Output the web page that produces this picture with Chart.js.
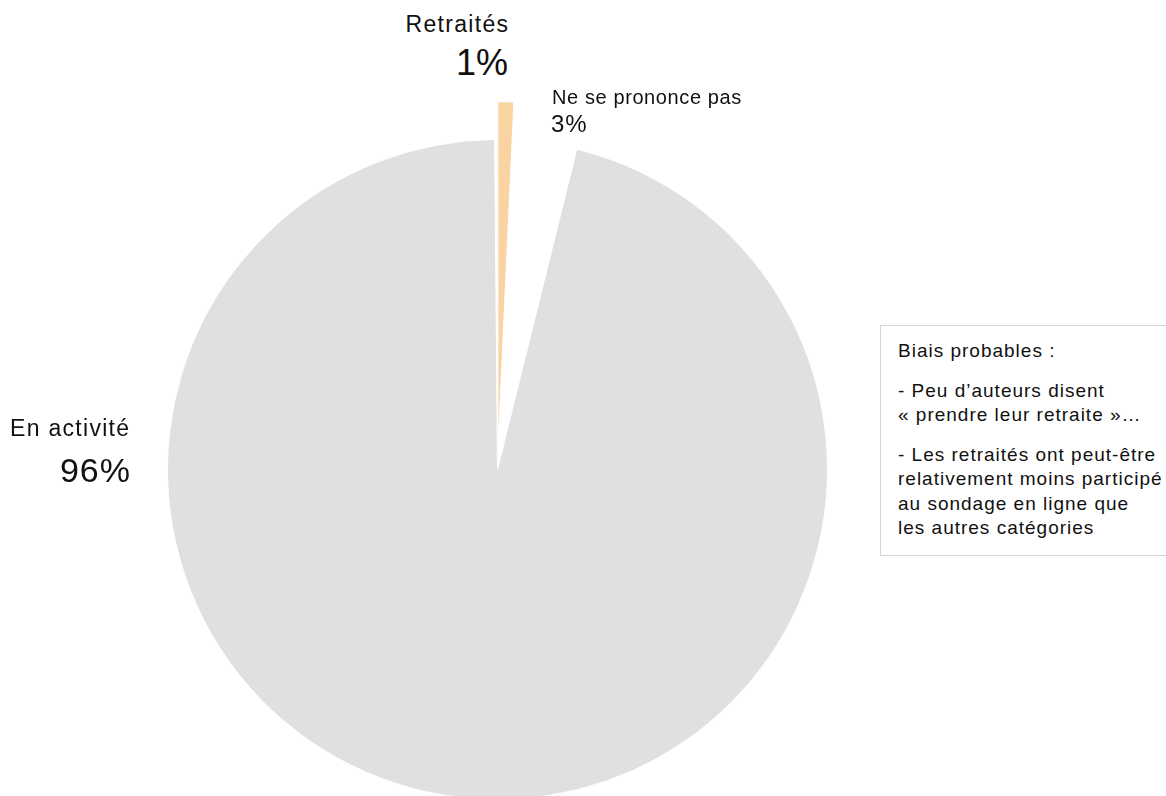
<!DOCTYPE html>
<html lang="fr">
<head>
<meta charset="utf-8">
<script src="https://cdn.jsdelivr.net/npm/chart.js@4.4.1/dist/chart.umd.min.js"></script>
<style>
  html, body { margin: 0; padding: 0; background: #fff; overflow: hidden; }
  body { width: 1166px; height: 796px; position: relative; font-family: "Liberation Sans", Arial, Helvetica, sans-serif; color: #111; }
  #pie { position: absolute; left: 128px; top: 100px; }
  .lbl { position: absolute; white-space: nowrap; line-height: 1; }
  #note {
    position: absolute; left: 880px; top: 325px; width: 300px;
    border: 1px solid #d4d4d4; padding: 13px 0 14px 17px;
    font-size: 19px; line-height: 24.5px; letter-spacing: 1px; white-space: nowrap;
  }
  #note p { margin: 0 0 15px 0; }
  #note p:last-child { margin-bottom: 0; }
</style>
</head>
<body>
<canvas id="pie" width="739" height="739"></canvas>
<div id="labels"></div>
<div id="note"></div>

<script>
// données du camembert
const categories = ['Retraités', 'Ne se prononce pas', 'En activité'];
const values = [1, 3, 96];
const colors = ['#fad3a3', '#ffffff', '#dfe0e2'];
// Chart.js v4 n'avance l'arc que d'environ offset/2 au total
const offsets = [78, 0, 0];

const noteLines = [
    ['Biais probables :'],
    ['- Peu d\u2019auteurs disent', '« prendre leur retraite »\u2026'],
    ['- Les retraités ont peut-être', 'relativement moins participé', 'au sondage en ligne que', 'les autres catégories']
];

const ctx = document.getElementById('pie').getContext('2d');
const chart = new Chart(ctx, {
    type: 'pie',
    data: {
        labels: categories,
        datasets: [{
            data: values,
            backgroundColor: colors,
            borderColor: '#ffffff',
            borderWidth: 1,
            offset: offsets,
            hoverOffset: 0
        }]
    },
    options: {
        responsive: false,
        animation: false,
        rotation: -0.5,
        layout: { padding: 0 },
        plugins: {
            legend: { display: false },
            tooltip: { enabled: false }
        }
    }
});

// étiquettes (nom + pourcentage)
const labelStyle = [
    { name: { right: 658, top: 13, size: 23, ls: 1.3 }, pct: { right: 658, top: 45, size: 36, ls: 0 } },
    { name: { left: 552, top: 87, size: 20, ls: 0.6 }, pct: { left: 551, top: 112, size: 24, ls: 1 } },
    { name: { left: 10, top: 417, size: 23, ls: 1.3 }, pct: { right: 1036, top: 453, size: 34, ls: 1 } }
];

const holder = document.getElementById('labels');
function addLabel(text, s) {
    const d = document.createElement('div');
    d.className = 'lbl';
    d.textContent = text;
    d.style.top = s.top + 'px';
    d.style.fontSize = s.size + 'px';
    d.style.letterSpacing = s.ls + 'px';
    if (s.left !== undefined) d.style.left = s.left + 'px';
    if (s.right !== undefined) d.style.right = (s.right - s.ls) + 'px';
    holder.appendChild(d);
}
categories.forEach((c, i) => {
    addLabel(c, labelStyle[i].name);
    addLabel(values[i] + '%', labelStyle[i].pct);
});

const note = document.getElementById('note');
noteLines.forEach(par => {
    const p = document.createElement('p');
    par.forEach((line, j) => {
        if (j > 0) p.appendChild(document.createElement('br'));
        p.appendChild(document.createTextNode(line));
    });
    note.appendChild(p);
});
</script>
</body>
</html>
